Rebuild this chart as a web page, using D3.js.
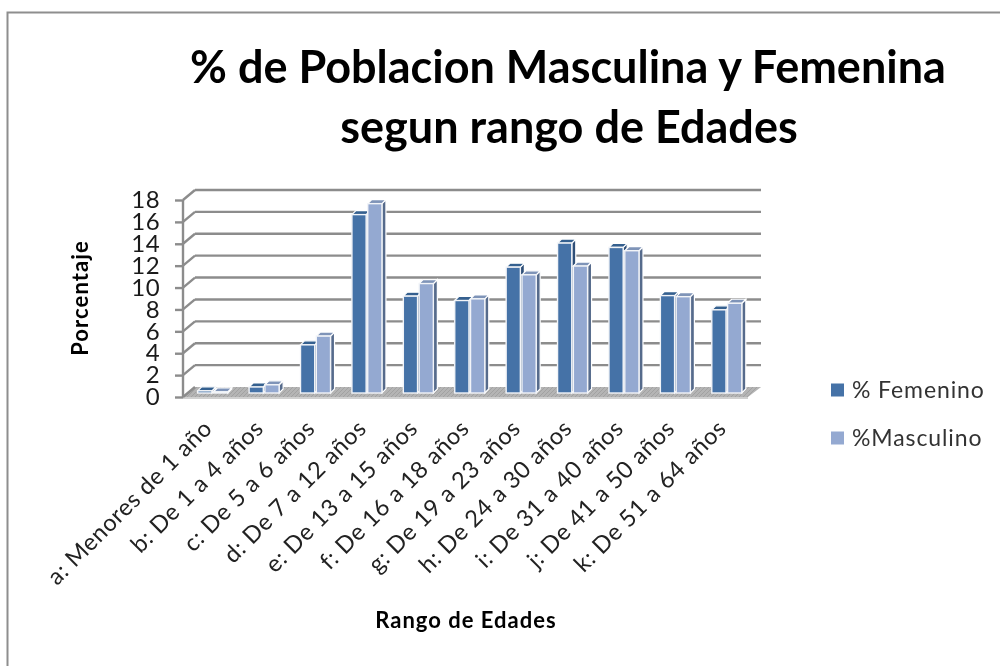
<!DOCTYPE html>
<html><head><meta charset="utf-8">
<script src="https://cdn.jsdelivr.net/npm/d3@7/dist/d3.min.js"></script>
<style>html,body{margin:0;padding:0;background:#fff;overflow:hidden}svg{display:block;filter:blur(0.45px)}text{font-family:Lato,"Open Sans",sans-serif}</style>
</head><body><svg id="c" width="1000" height="666"></svg>
<script>
const categories=["a: Menores de 1 año","b: De 1 a 4 años","c: De 5 a 6 años","d: De 7 a 12 años","e: De 13 a 15 años","f: De 16 a 18 años","g: De 19 a 23 años","h: De 24 a 30 años","i: De 31 a 40 años","j: De 41 a 50 años","k: De 51 a 64 años"];
const femenino=[0.2,0.55,4.4,16.3,8.85,8.45,11.5,13.7,13.3,8.9,7.6];
const masculino=[0.1,0.75,5.2,17.3,10,8.6,10.8,11.6,13,8.8,8.2];
const seriesNames=["% Femenino","%Masculino"];
const seriesValues=[femenino,masculino];
const yTicks=d3.range(0,19,2);
const palette=[{face:"#4572a7",top:"#35608f",side:"#2f4f78"},{face:"#94a9d1",top:"#7f94b8",side:"#566b8c"}];

const svg=d3.select("#c");
svg.append("path").attr("d","M7.5 680V12.5H1010").attr("fill","none").attr("stroke","#8e8e8e").attr("stroke-width",2);

const defs=svg.append("defs");
const pat=defs.append("pattern").attr("id","hatch").attr("width",4).attr("height",4).attr("patternUnits","userSpaceOnUse");
pat.append("rect").attr("width",4).attr("height",4).attr("fill","#b4b4b4");
pat.append("path").attr("d","M0 4L4 0").attr("stroke","#a2a2a2").attr("stroke-width",1);

const dx=12,dy=10;
const y=d3.scaleLinear().domain([0,18]).range([397,200]);
const x0=d3.scaleBand().domain(categories).range([187,752.5]).paddingInner(0.416).paddingOuter(0.208);
const x1=d3.scaleBand().domain([0,1]).range([0,x0.bandwidth()]).paddingInner(0.1);
const yBar=v=>y(v)-4;

// floor
svg.append("path").attr("d",`M183 ${y(0)}L${183+dx} ${y(0)-dy}L761 ${y(0)-dy}L748 ${y(0)}Z`).attr("fill","url(#hatch)");
svg.append("line").attr("x1",183).attr("x2",748).attr("y1",y(0)+1).attr("y2",y(0)+1).attr("stroke","#d0d0d0").attr("stroke-width",2);

// gridlines
const grid=svg.append("g").attr("fill","none").attr("stroke","#8c8c8c").attr("stroke-width",2.4);
yTicks.forEach(t=>{
  if(t>0) grid.append("line").attr("x1",183+dx).attr("x2",761).attr("y1",y(t)-dy).attr("y2",y(t)-dy);
  grid.append("line").attr("x1",183).attr("x2",183+dx).attr("y1",y(t)).attr("y2",y(t)-dy);
});

// axis
const axis=d3.axisLeft(y).tickValues(yTicks).tickSize(8).tickPadding(15);
const ga=svg.append("g").attr("transform","translate(183,0)").call(axis);
ga.selectAll("line,path").attr("stroke","#8c8c8c").attr("stroke-width",2.4);
ga.select(".domain").attr("d",`M0 ${y(18)}V${y(0)}`);
ga.selectAll("text").attr("font-size",24).attr("letter-spacing",0.4).attr("fill","#1a1a1a").attr("font-family","Lato");

// bars
const depth=4;
categories.forEach((c,i)=>{
  const g=svg.append("g");
  seriesValues.forEach((vals,s)=>{
    const v=vals[i],l=x0(c)+x1(s),w=x1.bandwidth(),t=yBar(v),b=yBar(0),p=palette[s];
    g.append("path").attr("d",`M${l+w} ${t}L${l+w+depth} ${t-depth}V${b-depth}L${l+w} ${b}Z`).attr("fill",p.side).attr("stroke","#fff").attr("stroke-width",1.2);
    g.append("path").attr("d",`M${l} ${t}L${l+depth} ${t-depth}H${l+w+depth}L${l+w} ${t}Z`).attr("fill",p.top).attr("stroke","#fff").attr("stroke-width",1.2);
    g.append("rect").attr("x",l).attr("y",t).attr("width",w).attr("height",Math.max(b-t,0)).attr("fill",p.face).attr("stroke","#f2f4f8").attr("stroke-width",1.4);
  });
});

// category labels
svg.append("g").selectAll("text").data(categories).join("text")
  .attr("transform",c=>`translate(${x0(c)+x0.bandwidth()/2-5},${424}) rotate(-45)`)
  .attr("text-anchor","end").attr("font-size",23.5).attr("letter-spacing",0.6).attr("fill","#222").attr("dy","0.35em").text(c=>c);

// titles
const title=svg.append("g").attr("text-anchor","middle").attr("font-weight",700).attr("font-size",45).attr("fill","#000");
title.append("text").attr("x",568).attr("y",83).text("% de Poblacion Masculina y Femenina");
title.append("text").attr("x",569).attr("y",143).text("segun rango de Edades");
svg.append("text").attr("transform","translate(88,298) rotate(-90)").attr("text-anchor","middle").attr("font-weight",700).attr("font-size",22).attr("letter-spacing",1.1).attr("fill","#000").text("Porcentaje");
svg.append("text").attr("x",466).attr("y",628).attr("text-anchor","middle").attr("font-weight",700).attr("font-size",22).attr("letter-spacing",1).attr("fill","#000").text("Rango de Edades");

// legend
const lg=svg.append("g");
seriesNames.forEach((n,i)=>{
  const ly=390+i*48;
  lg.append("rect").attr("x",831).attr("y",ly-6.5).attr("width",13).attr("height",13).attr("fill",palette[i].face);
  lg.append("text").attr("x",852).attr("y",ly).attr("dy","0.35em").attr("font-size",23).attr("letter-spacing",0.9).attr("fill","#333").text(n);
});
</script></body></html>
